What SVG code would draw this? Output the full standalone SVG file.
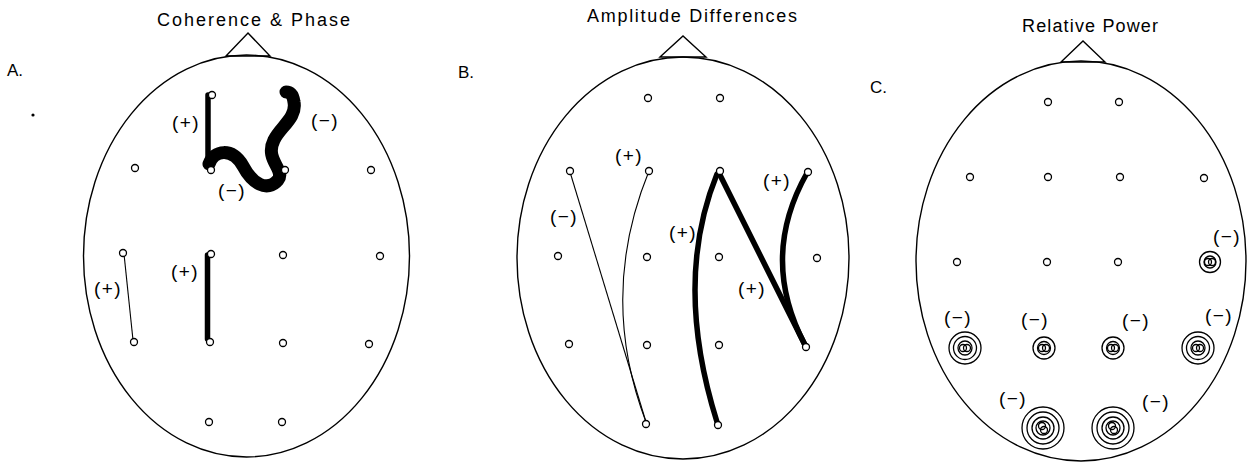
<svg xmlns="http://www.w3.org/2000/svg" width="1254" height="464" viewBox="0 0 1254 464">
<style>
.head{fill:none;stroke:#000;stroke-width:1.4}
.el{fill:#fff;stroke:#000;stroke-width:1.3}
.ring{fill:none;stroke:#000;stroke-width:1.3}
.thin{fill:none;stroke:#000;stroke-width:1.1}
.thick{fill:none;stroke:#000;stroke-width:5.5;stroke-linecap:round}
.title{font-family:"Liberation Sans",Arial,sans-serif;font-size:18px;fill:#000}
.lab{font-family:"Liberation Sans",Arial,sans-serif;font-size:17px;fill:#000}
.sg{font-family:"Liberation Sans",Arial,sans-serif;font-size:19px;fill:#000;text-anchor:middle;letter-spacing:1.5px}
</style>
<rect width="1254" height="464" fill="#fff"/>

<!-- Panel A -->
<g id="panelA">
  <text class="title" x="157" y="26" textLength="193" lengthAdjust="spacing">Coherence &amp; Phase</text>
  <text class="lab" x="7" y="76">A.</text>
  <circle cx="33" cy="115" r="1.6" fill="#000"/>
  <ellipse class="head" cx="246.5" cy="256" rx="163" ry="201"/>
  <polygon class="head" points="226,56 248,33 270,56"/>
</g>
<g id="connectorsA">
  <line class="thick" x1="208" y1="95" x2="208" y2="166" stroke-width="6.5"/>
  <path d="M 209 164 C 214 150, 232 147, 243 166 C 252 183, 267 193, 278 180 C 286 170, 264 160, 274 140 C 280 127, 297 118, 294 102 C 293 95, 290 92, 286 92" fill="none" stroke="#000" stroke-width="13" stroke-linecap="round"/>
  <line class="thin" x1="124" y1="254" x2="133" y2="340"/>
  <line class="thick" x1="207.5" y1="255" x2="207.5" y2="339"/>
</g>
<g id="electrodesA">
  <circle class="el" cx="212" cy="95" r="3.5"/>
  <circle class="el" cx="211" cy="170" r="3.5"/>
  <circle class="el" cx="285" cy="170" r="3.5"/>
  <circle class="el" cx="135" cy="168" r="3.5"/>
  <circle class="el" cx="371" cy="170" r="3.5"/>
  <circle class="el" cx="123" cy="253" r="3.5"/>
  <circle class="el" cx="211" cy="254" r="3.5"/>
  <circle class="el" cx="283" cy="255" r="3.5"/>
  <circle class="el" cx="380" cy="256" r="3.5"/>
  <circle class="el" cx="134" cy="342" r="3.5"/>
  <circle class="el" cx="210" cy="342" r="3.5"/>
  <circle class="el" cx="283" cy="343" r="3.5"/>
  <circle class="el" cx="369" cy="344" r="3.5"/>
  <circle class="el" cx="209" cy="422" r="3.5"/>
  <circle class="el" cx="282" cy="422" r="3.5"/>
</g>
<g id="labelsA">
  <text class="sg" x="186" y="129">(+)</text>
  <text class="sg" x="325" y="127">(−)</text>
  <text class="sg" x="232" y="197">(−)</text>
  <text class="sg" x="108" y="295">(+)</text>
  <text class="sg" x="185" y="278">(+)</text>
</g>

<!-- Panel B -->
<g id="panelB">
  <text class="title" x="587" y="22" textLength="210" lengthAdjust="spacing">Amplitude Differences</text>
  <text class="lab" x="458" y="78">B.</text>
  <ellipse class="head" cx="683" cy="258" rx="166" ry="201"/>
  <polygon class="head" points="660,57 683,36 706,57"/>
</g>
<g id="connectorsB">
  <line class="thin" x1="570" y1="172" x2="646" y2="422"/>
  <path class="thin" d="M 649 171 Q 598 296 646 422"/>
  <path class="thick" d="M 717 174 Q 673 282 717 422"/>
  <line class="thick" x1="719" y1="173" x2="805" y2="345"/>
  <path class="thick" d="M 807 173 Q 759 258 805 345"/>
</g>
<g id="electrodesB">
  <circle class="el" cx="648" cy="98" r="3.5"/>
  <circle class="el" cx="720" cy="98" r="3.5"/>
  <circle class="el" cx="570" cy="171" r="3.5"/>
  <circle class="el" cx="649" cy="171" r="3.5"/>
  <circle class="el" cx="720" cy="171" r="3.5"/>
  <circle class="el" cx="808" cy="172" r="3.5"/>
  <circle class="el" cx="558" cy="256" r="3.5"/>
  <circle class="el" cx="647" cy="257" r="3.5"/>
  <circle class="el" cx="719" cy="257" r="3.5"/>
  <circle class="el" cx="817" cy="258" r="3.5"/>
  <circle class="el" cx="569" cy="344" r="3.5"/>
  <circle class="el" cx="647" cy="345" r="3.5"/>
  <circle class="el" cx="719" cy="345" r="3.5"/>
  <circle class="el" cx="806" cy="347" r="3.5"/>
  <circle class="el" cx="646" cy="424" r="3.5"/>
  <circle class="el" cx="718" cy="425" r="3.5"/>
</g>
<g id="labelsB">
  <text class="sg" x="629" y="162">(+)</text>
  <text class="sg" x="564" y="223">(−)</text>
  <text class="sg" x="777" y="187">(+)</text>
  <text class="sg" x="683" y="239">(+)</text>
  <text class="sg" x="752" y="295">(+)</text>
</g>

<!-- Panel C -->
<g id="panelC">
  <text class="title" x="1022" y="32" textLength="136" lengthAdjust="spacing">Relative Power</text>
  <text class="lab" x="870" y="93">C.</text>
  <ellipse class="head" cx="1081" cy="261" rx="165" ry="200"/>
  <polygon class="head" points="1061,62 1083,41 1105,62"/>
</g>
<g id="electrodesC">
  <circle class="el" cx="1048" cy="102" r="3.5"/>
  <circle class="el" cx="1119" cy="102" r="3.5"/>
  <circle class="el" cx="970" cy="177" r="3.5"/>
  <circle class="el" cx="1048" cy="177" r="3.5"/>
  <circle class="el" cx="1120" cy="177" r="3.5"/>
  <circle class="el" cx="1204" cy="178" r="3.5"/>
  <circle class="el" cx="957" cy="262" r="3.5"/>
  <circle class="el" cx="1047" cy="262" r="3.5"/>
  <circle class="el" cx="1118" cy="262" r="3.5"/>
</g>
<g id="ringsC">
  <g id="ringT8">
    <circle class="ring" cx="1210" cy="262" r="10.5"/>
    <circle class="ring" cx="1210" cy="262" r="6"/>
    <circle class="ring" cx="1208" cy="262" r="3.5"/>
    <circle class="ring" cx="1212" cy="262" r="3.5"/>
  </g>
  <g id="ringT5">
    <circle class="ring" cx="965" cy="348" r="16"/>
    <circle class="ring" cx="965" cy="348" r="11.5"/>
    <circle class="ring" cx="965" cy="348" r="7"/>
    <circle class="ring" cx="963" cy="348" r="3.5"/>
    <circle class="ring" cx="967" cy="348" r="3.5"/>
  </g>
  <g id="ringP3">
    <circle class="ring" cx="1044" cy="348" r="11"/>
    <circle class="ring" cx="1044" cy="348" r="6.5"/>
    <circle class="ring" cx="1042" cy="348" r="3.5"/>
    <circle class="ring" cx="1046" cy="348" r="3.5"/>
  </g>
  <g id="ringP4">
    <circle class="ring" cx="1113" cy="348" r="11"/>
    <circle class="ring" cx="1113" cy="348" r="6.5"/>
    <circle class="ring" cx="1111" cy="348" r="3.5"/>
    <circle class="ring" cx="1115" cy="348" r="3.5"/>
  </g>
  <g id="ringT6">
    <circle class="ring" cx="1198" cy="348" r="16"/>
    <circle class="ring" cx="1198" cy="348" r="11.5"/>
    <circle class="ring" cx="1198" cy="348" r="7"/>
    <circle class="ring" cx="1196" cy="348" r="3.5"/>
    <circle class="ring" cx="1200" cy="348" r="3.5"/>
  </g>
  <g id="ringO1">
    <circle class="ring" cx="1043" cy="428" r="21"/>
    <circle class="ring" cx="1043" cy="428" r="16"/>
    <circle class="ring" cx="1043" cy="428" r="11"/>
    <circle class="ring" cx="1043" cy="428" r="7"/>
    <circle class="ring" cx="1042" cy="426" r="3.5"/>
    <circle class="ring" cx="1044" cy="430" r="3.5"/>
  </g>
  <g id="ringO2">
    <circle class="ring" cx="1113" cy="428" r="21"/>
    <circle class="ring" cx="1113" cy="428" r="16"/>
    <circle class="ring" cx="1113" cy="428" r="11"/>
    <circle class="ring" cx="1113" cy="428" r="7"/>
    <circle class="ring" cx="1112" cy="426" r="3.5"/>
    <circle class="ring" cx="1114" cy="430" r="3.5"/>
  </g>
</g>
<g id="labelsC">
  <text class="sg" x="1227" y="243">(−)</text>
  <text class="sg" x="958" y="324">(−)</text>
  <text class="sg" x="1035" y="326">(−)</text>
  <text class="sg" x="1136" y="327">(−)</text>
  <text class="sg" x="1219" y="322">(−)</text>
  <text class="sg" x="1013" y="405">(−)</text>
  <text class="sg" x="1156" y="408">(−)</text>
</g>
</svg>
